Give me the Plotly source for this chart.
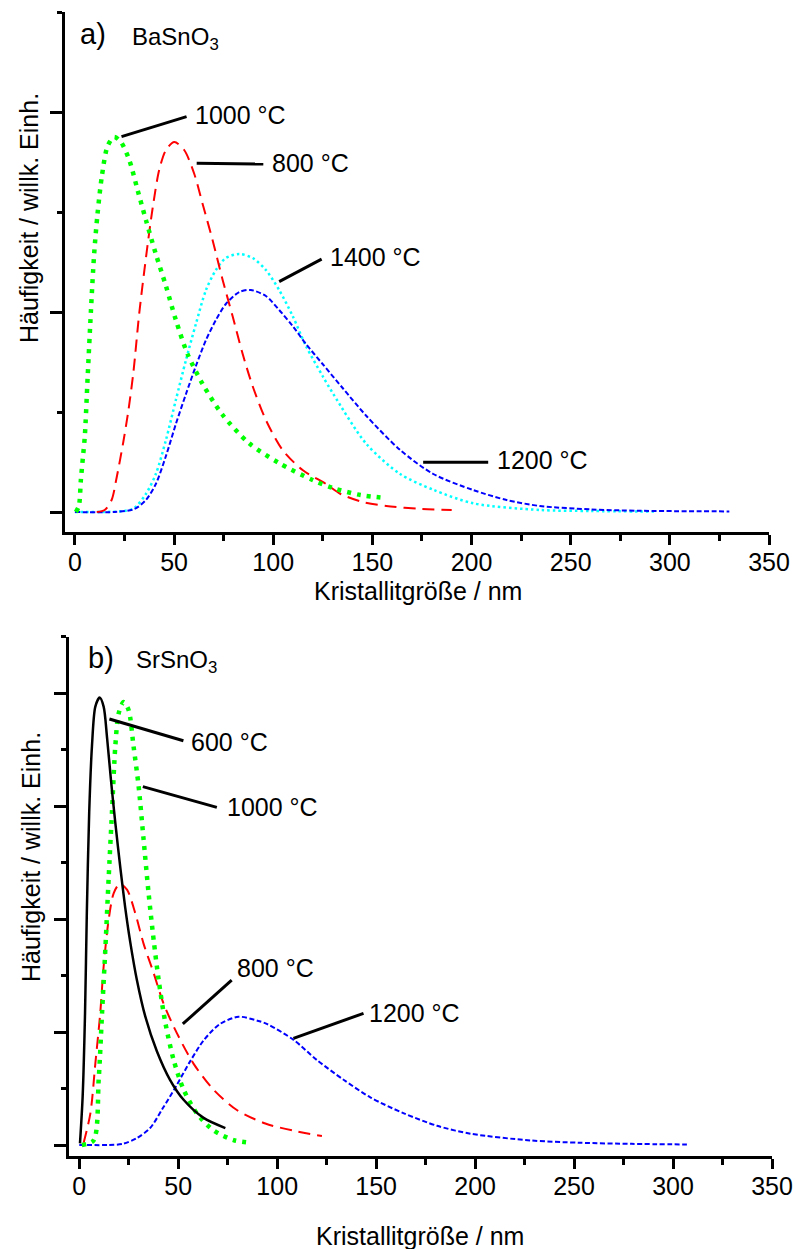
import plotly.graph_objects as go

# ---------------- data: (a) BaSnO3 crystallite size distributions ----------------
ba_800_x = [11, 15, 18.5, 21, 24.4, 27, 29.5, 32.4, 35.8, 39.2, 42.5, 45.9, 50.1, 55.1, 60.2, 64.4,
            69.4, 74.5, 79.5, 84.6, 89.6, 96.3, 104.7, 114.8, 126.6, 134, 145, 157, 175, 190]
ba_800_y = [0, 0.01, 0.06, 0.17, 0.35, 0.51, 0.7, 0.99, 1.27, 1.52, 1.71, 1.81, 1.85, 1.81, 1.69, 1.54,
            1.36, 1.16, 0.98, 0.79, 0.63, 0.46, 0.31, 0.21, 0.14, 0.09, 0.05, 0.03, 0.015, 0.01]

ba_1000_x = [0.5, 2.0, 3.0, 4.0, 5.0, 6.4, 8.1, 9.7, 11.4, 13.6, 16.5, 19.8, 23.2, 27.4, 31.6, 35.8,
             40.8, 45.9, 50.9, 56.8, 64.4, 74.5, 87.7, 102.9, 119.8, 130, 144, 157]
ba_1000_y = [0, 0.03, 0.16, 0.27, 0.38, 0.67, 1.01, 1.29, 1.49, 1.68, 1.83, 1.875, 1.85, 1.76, 1.61, 1.46,
             1.29, 1.13, 0.96, 0.79, 0.64, 0.485, 0.345, 0.245, 0.16, 0.12, 0.085, 0.07]

ba_1200_x = [0, 20, 30, 35.8, 40.8, 45.9, 50.9, 56, 61, 66.1, 71.1, 76.1, 82.9, 88.7, 96.3, 103,
             109.8, 116.5, 124.9, 135, 147, 164, 180.7, 200.8, 217.7, 234.5, 260, 285, 330]
ba_1200_y = [0, 0, 0.015, 0.06, 0.14, 0.28, 0.44, 0.59, 0.73, 0.86, 0.96, 1.04, 1.10, 1.11, 1.08, 1.01,
             0.93, 0.84, 0.74, 0.62, 0.48, 0.31, 0.19, 0.11, 0.06, 0.03, 0.013, 0.006, 0.003]

ba_1400_x = [0, 15, 25, 30, 35.8, 40.8, 45.9, 50.9, 56, 61, 66.1, 71.1, 76.1, 82.9, 89.6, 96.3,
             103, 109.8, 116.5, 124.9, 130.3, 147, 164, 181, 201, 234.5, 260, 292]
ba_1400_y = [0, 0, 0.005, 0.02, 0.09, 0.19, 0.36, 0.56, 0.76, 0.94, 1.11, 1.21, 1.27, 1.29, 1.27, 1.21,
             1.11, 0.98, 0.83, 0.68, 0.59, 0.34, 0.19, 0.11, 0.043, 0.01, 0.005, 0.002]

# ---------------- data: (b) SrSnO3 crystallite size distributions ----------------
sr_600_x = [0.35, 1.7, 2.9, 3.8, 5.0, 6.4, 8.1, 10.3, 12.3, 14.0, 16.0, 18.2, 20.7, 23.2, 25.7,
            29.1, 33.3, 39.2, 45.9, 52.7, 62.8, 73.8]
sr_600_y = [0.015, 0.43, 1.17, 2.05, 2.94, 3.53, 3.88, 3.96, 3.88, 3.61, 3.23, 2.85, 2.46, 2.10, 1.80,
            1.46, 1.14, 0.83, 0.575, 0.40, 0.24, 0.15]

sr_800_x = [2.2, 5.6, 8.1, 10.6, 12.3, 14.8, 17.4, 20.4, 24.1, 28.3, 32.5, 37.6, 42.6, 49.3, 57.7,
            67.8, 79.6, 94, 110, 122.6]
sr_800_y = [0.02, 0.28, 0.72, 1.17, 1.58, 1.99, 2.23, 2.31, 2.26, 2.05, 1.78, 1.52, 1.25, 0.99, 0.72,
            0.49, 0.31, 0.19, 0.12, 0.08]

sr_1000_x = [1.3, 7.2, 9.8, 11.5, 13.2, 14.8, 16.5, 18.2, 19.9, 22.4, 24.9, 27.4, 30, 32.5, 35, 37.6,
             40.1, 43.5, 47.7, 52.7, 59.4, 67.8, 77.9, 86.3]
sr_1000_y = [0, 0.04, 0.58, 1.17, 1.75, 2.35, 2.94, 3.53, 3.82, 3.92, 3.85, 3.53, 3.17, 2.70, 2.23, 1.81,
             1.46, 1.08, 0.75, 0.49, 0.28, 0.13, 0.044, 0.02]

sr_1200_x = [0, 15, 22, 29, 35.8, 42, 48.9, 56, 63, 71, 80.5, 90, 95, 108.3, 120.2, 133.7, 147.2,
             164, 180.8, 197.6, 228, 253, 279, 307]
sr_1200_y = [0, 0, 0.01, 0.06, 0.15, 0.32, 0.52, 0.74, 0.93, 1.07, 1.135, 1.10, 1.07, 0.93, 0.75, 0.575, 0.42,
             0.28, 0.17, 0.10, 0.04, 0.02, 0.01, 0.005]

x_ticks = [0, 50, 100, 150, 200, 250, 300, 350]

# label texts and leader lines: (text, line start x, y, line end x, y, text x, y)
labels_a = [
    ("1000 °C", 23.5, 1.877, 56.3, 1.977, 59.5, 1.985),
    ("800 °C", 61.4, 1.744, 95.0, 1.74, 98.3, 1.745),
    ("1400 °C", 103.0, 1.152, 124.4, 1.264, 127.7, 1.277),
    ("1200 °C", 175.6, 0.249, 208.4, 0.249, 211.8, 0.26),
]
labels_b = [
    ("600 °C", 15.2, 3.77, 52.6, 3.578, 55.6, 3.569),
    ("1000 °C", 32.1, 3.171, 69.5, 2.988, 73.7, 2.994),
    ("800 °C", 52.3, 1.071, 77.0, 1.46, 78.7, 1.564),
    ("1200 °C", 108.2, 0.944, 143.6, 1.165, 145.6, 1.165),
]

FONT = "Liberation Sans, Arial, Helvetica, sans-serif"
W, H = 795, 1249

GREEN = dict(color="#00FF00", width=4.5, dash="4px,6px")
RED = dict(color="#FF0000", width=2, dash="12px,7px")
CYAN = dict(color="#00FFFF", width=2.5, dash="2.5px,3px")
BLUE = dict(color="#0000FF", width=2, dash="5px,2.5px")
BLACK = dict(color="#000000", width=2.5)

fig = go.Figure()


def add_curve(x, y, line, xa, ya):
    fig.add_trace(go.Scatter(x=x, y=y, mode="lines", line=dict(shape="spline", smoothing=0.8, **line),
                             xaxis=xa, yaxis=ya, showlegend=False, hoverinfo="skip"))


# panel a
add_curve(ba_1400_x, ba_1400_y, CYAN, "x", "y")
add_curve(ba_1200_x, ba_1200_y, BLUE, "x", "y")
add_curve(ba_800_x, ba_800_y, RED, "x", "y")
add_curve(ba_1000_x, ba_1000_y, GREEN, "x", "y")
# panel b
add_curve(sr_1200_x, sr_1200_y, BLUE, "x2", "y2")
add_curve(sr_800_x, sr_800_y, RED, "x2", "y2")
add_curve(sr_1000_x, sr_1000_y, GREEN, "x2", "y2")
add_curve(sr_600_x, sr_600_y, BLACK, "x2", "y2")

shapes = []
annotations = []


def add_labels(items, xr, yr):
    for text, x0, y0, x1, y1, tx, ty in items:
        shapes.append(dict(type="line", xref=xr, yref=yr, x0=x0, y0=y0, x1=x1, y1=y1,
                           line=dict(color="black", width=3)))
        annotations.append(dict(text=text, xref=xr, yref=yr, x=tx, y=ty, xanchor="left",
                                yanchor="middle", showarrow=False,
                                font=dict(family=FONT, size=25, color="black")))


add_labels(labels_a, "x", "y")
add_labels(labels_b, "x2", "y2")

# panel captions
annotations += [
    dict(text="a)", xref="x", yref="y", x=1.5, y=2.39, xanchor="left", yanchor="middle",
         showarrow=False, font=dict(family=FONT, size=29, color="black")),
    dict(text="BaSnO<sub>3</sub>", xref="x", yref="y", x=27.7, y=2.37, xanchor="left", yanchor="middle",
         showarrow=False, font=dict(family=FONT, size=24, color="black")),
    dict(text="b)", xref="x2", yref="y2", x=3.4, y=4.31, xanchor="left", yanchor="middle",
         showarrow=False, font=dict(family=FONT, size=29, color="black")),
    dict(text="SrSnO<sub>3</sub>", xref="x2", yref="y2", x=27.7, y=4.28, xanchor="left", yanchor="middle",
         showarrow=False, font=dict(family=FONT, size=24, color="black")),
]

# axis titles
ytitle = "Häufigkeit / willk. Einh."
xtitle = "Kristallitgröße / nm"
annotations += [
    dict(text=ytitle, xref="paper", yref="paper", x=29 / W, y=1 - 218 / H, textangle=-90,
         xanchor="center", yanchor="middle", showarrow=False, font=dict(family=FONT, size=25, color="black")),
    dict(text=ytitle, xref="paper", yref="paper", x=31 / W, y=1 - 857 / H, textangle=-90,
         xanchor="center", yanchor="middle", showarrow=False, font=dict(family=FONT, size=25, color="black")),
    dict(text=xtitle, xref="paper", yref="paper", x=418 / W, y=1 - 591 / H,
         xanchor="center", yanchor="middle", showarrow=False, font=dict(family=FONT, size=25, color="black")),
    dict(text=xtitle, xref="paper", yref="paper", x=420 / W, y=1 - 1236 / H,
         xanchor="center", yanchor="middle", showarrow=False, font=dict(family=FONT, size=25, color="black")),
]


def xaxis_cfg(domain, anchor):
    return dict(domain=domain, anchor=anchor, range=[-5, 350], showgrid=False, zeroline=False,
                automargin=False, showline=True, linecolor="black", linewidth=3,
                ticks="outside", ticklen=10, tickwidth=2.5, tickcolor="black",
                tickmode="array", tickvals=x_ticks, ticktext=[str(v) for v in x_ticks],
                ticklabelstandoff=-4,
                minor=dict(ticks="outside", ticklen=6, tickwidth=2.5, tickcolor="black",
                           tickmode="array", tickvals=[v + 25 for v in x_ticks[:-1]]),
                tickfont=dict(family=FONT, size=25, color="black"), fixedrange=True)


def yaxis_cfg(domain, anchor, top):
    return dict(domain=domain, anchor=anchor, range=[-0.1, top], showgrid=False, zeroline=False,
                automargin=False, showline=True, linecolor="black", linewidth=3,
                ticks="outside", ticklen=12, tickwidth=2.5, tickcolor="black",
                tick0=0, dtick=1, showticklabels=False,
                minor=dict(ticks="outside", ticklen=5, tickwidth=2.5, tickcolor="black", tick0=0, dtick=0.5),
                fixedrange=True)


fig.update_layout(
    width=W, height=H,
    margin=dict(l=0, r=0, t=0, b=0, autoexpand=False),
    paper_bgcolor="white", plot_bgcolor="white",
    xaxis=xaxis_cfg([65 / W, 769 / W], "y"),
    yaxis=yaxis_cfg([1 - 532 / H, 1 - 12 / H], "x", 2.5),
    xaxis2=xaxis_cfg([69.4 / W, 772 / W], "y2"),
    yaxis2=yaxis_cfg([1 - 1156.3 / H, 1 - 636.5 / H], "x2", 4.5),
    shapes=shapes,
    annotations=annotations,
    showlegend=False,
)

fig.write_html("out.html")
